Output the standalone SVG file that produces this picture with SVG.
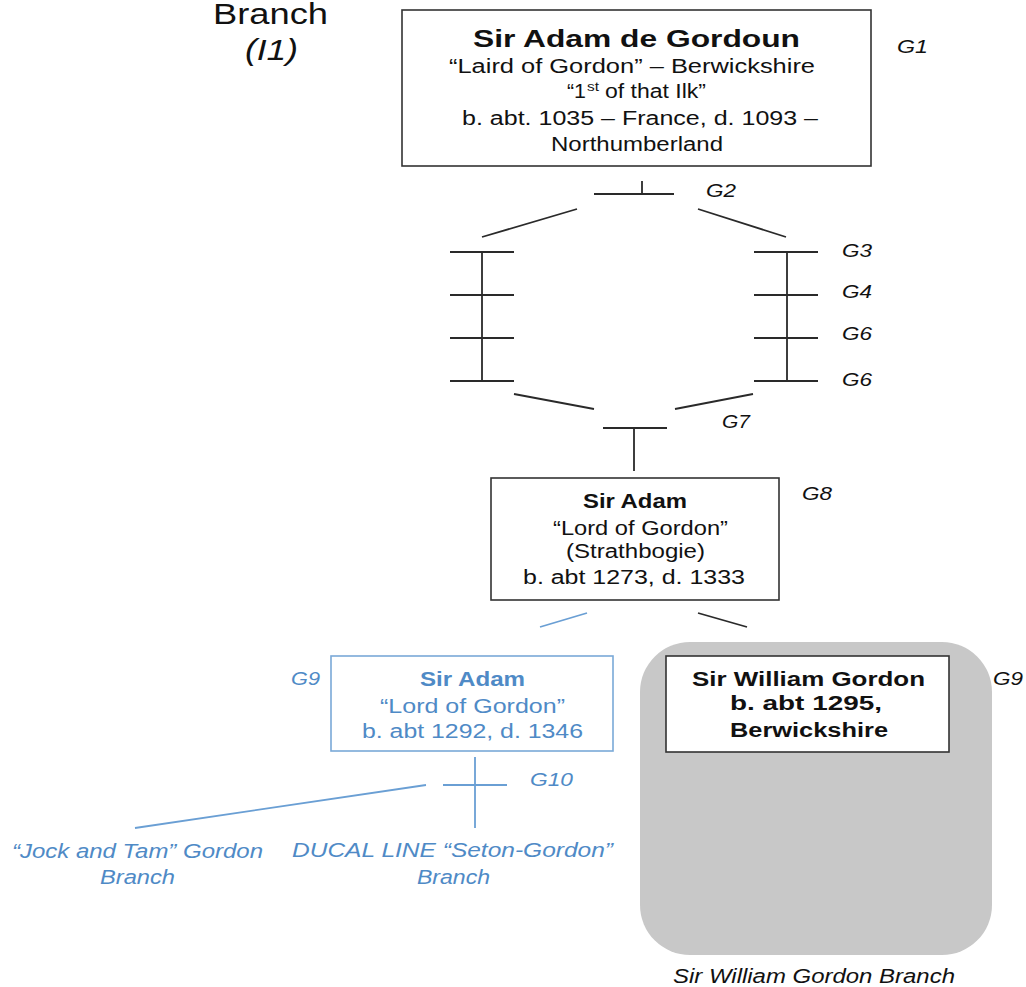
<svg xmlns="http://www.w3.org/2000/svg" width="1026" height="987" viewBox="0 0 1026 987">
  <style>
    text { font-family: "Liberation Sans", Arial, sans-serif; fill: #111; }
    .b { font-weight: bold; }
    .i { font-style: italic; }
    .t { font-size: 20px; }
    .gen { font-size: 19px; font-style: italic; }
    .blue { fill: #4f8ac6; }
    .box { fill: #fff; stroke: #333; stroke-width: 1.6; }
    .bbox { fill: #fff; stroke: #7aa9d8; stroke-width: 1.6; }
    .ln { stroke: #2a2a2a; stroke-width: 1.8; fill: none; }
    .bl { stroke: #6a9fd4; stroke-width: 1.8; fill: none; }
  </style>
  <rect width="1026" height="987" fill="#fff"/>

  <!-- branch heading -->
  <g id="heading">
    <text x="213" y="24" font-size="29" textLength="115" lengthAdjust="spacingAndGlyphs">Branch</text>
    <text x="245" y="60" font-size="29" class="i" textLength="53" lengthAdjust="spacingAndGlyphs">(I1)</text>
  </g>

  <!-- generation labels -->
  <g id="generations" class="gen">
    <text x="897" y="53" textLength="31" lengthAdjust="spacingAndGlyphs">G1</text>
    <text x="706" y="197" textLength="30" lengthAdjust="spacingAndGlyphs">G2</text>
    <text x="842" y="257" textLength="30" lengthAdjust="spacingAndGlyphs">G3</text>
    <text x="842" y="298" textLength="30" lengthAdjust="spacingAndGlyphs">G4</text>
    <text x="842" y="340" textLength="30" lengthAdjust="spacingAndGlyphs">G6</text>
    <text x="842" y="386" textLength="30" lengthAdjust="spacingAndGlyphs">G6</text>
    <text x="722" y="428" textLength="28" lengthAdjust="spacingAndGlyphs">G7</text>
    <text x="802" y="500" textLength="30" lengthAdjust="spacingAndGlyphs">G8</text>
    <text x="291" y="685" class="blue" textLength="29" lengthAdjust="spacingAndGlyphs">G9</text>
    <text x="993" y="685" textLength="30" lengthAdjust="spacingAndGlyphs">G9</text>
    <text x="530" y="786" class="blue" textLength="43" lengthAdjust="spacingAndGlyphs">G10</text>
  </g>

  <!-- shaded branch area -->
  <g id="william-branch">
    <rect x="640" y="642" width="352" height="313" rx="50" fill="#c8c8c8"/>
    <text x="673" y="983" font-size="20" class="i" textLength="282" lengthAdjust="spacingAndGlyphs">Sir William Gordon Branch</text>
  </g>

  <!-- connectors -->
  <g id="connectors">
    <path class="ln" d="M594 194H674M642 181V194"/>
    <path class="ln" d="M577 209L482 237M698 209L786 237"/>
    <path class="ln" d="M482 252V381M450 252H514M450 295H514M450 338H514M450 381H514"/>
    <path class="ln" d="M787 252V381M754 252H818M754 295H818M754 338H818M754 381H818"/>
    <path class="ln" d="M514 394L594 409M753 394L675 409"/>
    <path class="ln" d="M603 428H667M634 428V471"/>
    <path class="bl" d="M587 613L540 627"/>
    <path class="ln" d="M698 613L747 627"/>
    <path class="bl" d="M475 757V828M443 785H507M426 785L135 828"/>
  </g>

  <!-- G1 -->
  <g id="adam-de-gordoun">
    <rect class="box" x="402" y="10" width="469" height="156"/>
    <text x="473" y="47" font-size="23" class="b" textLength="327" lengthAdjust="spacingAndGlyphs">Sir Adam de Gordoun</text>
    <text x="449" y="73" class="t" textLength="366" lengthAdjust="spacingAndGlyphs">“Laird of Gordon” – Berwickshire</text>
    <text x="567" y="98" class="t" textLength="19" lengthAdjust="spacingAndGlyphs">“1</text>
    <text x="587" y="91" font-size="12" textLength="12" lengthAdjust="spacingAndGlyphs">st</text>
    <text x="605" y="98" class="t" textLength="101" lengthAdjust="spacingAndGlyphs">of that Ilk”</text>
    <text x="462" y="125" class="t" textLength="356" lengthAdjust="spacingAndGlyphs">b. abt. 1035 – France, d. 1093 –</text>
    <text x="551" y="151" class="t" textLength="172" lengthAdjust="spacingAndGlyphs">Northumberland</text>
  </g>

  <!-- G8 -->
  <g id="adam-g8">
    <rect class="box" x="491" y="478" width="288" height="122"/>
    <text x="583" y="508" class="t b" textLength="104" lengthAdjust="spacingAndGlyphs">Sir Adam</text>
    <text x="553" y="535" class="t" textLength="175" lengthAdjust="spacingAndGlyphs">“Lord of Gordon”</text>
    <text x="566" y="558" class="t" textLength="139" lengthAdjust="spacingAndGlyphs">(Strathbogie)</text>
    <text x="523" y="584" class="t" textLength="222" lengthAdjust="spacingAndGlyphs">b. abt 1273, d. 1333</text>
  </g>

  <!-- G9 Adam -->
  <g id="adam-g9">
    <rect class="bbox" x="331" y="656" width="282" height="95"/>
    <text x="420" y="686" class="t b blue" textLength="105" lengthAdjust="spacingAndGlyphs">Sir Adam</text>
    <text x="380" y="713" class="t blue" textLength="185" lengthAdjust="spacingAndGlyphs">“Lord of Gordon”</text>
    <text x="362" y="738" class="t blue" textLength="221" lengthAdjust="spacingAndGlyphs">b. abt 1292, d. 1346</text>
  </g>

  <!-- G9 William -->
  <g id="william-g9">
    <rect class="box" x="666" y="656" width="283" height="96"/>
    <text x="692" y="686" class="t b" textLength="233" lengthAdjust="spacingAndGlyphs">Sir William Gordon</text>
    <text x="730" y="710" class="t b" textLength="152" lengthAdjust="spacingAndGlyphs">b. abt 1295,</text>
    <text x="730" y="737" class="t b" textLength="158" lengthAdjust="spacingAndGlyphs">Berwickshire</text>
  </g>

  <!-- G10 branches -->
  <g id="jock-and-tam">
    <text x="12" y="858" class="t i blue" textLength="251" lengthAdjust="spacingAndGlyphs">“Jock and Tam” Gordon</text>
    <text x="100" y="884" class="t i blue" textLength="75" lengthAdjust="spacingAndGlyphs">Branch</text>
  </g>
  <g id="ducal-line">
    <text x="292" y="857" class="t i blue" textLength="321" lengthAdjust="spacingAndGlyphs">DUCAL LINE “Seton-Gordon”</text>
    <text x="417" y="884" class="t i blue" textLength="73" lengthAdjust="spacingAndGlyphs">Branch</text>
  </g>
</svg>
